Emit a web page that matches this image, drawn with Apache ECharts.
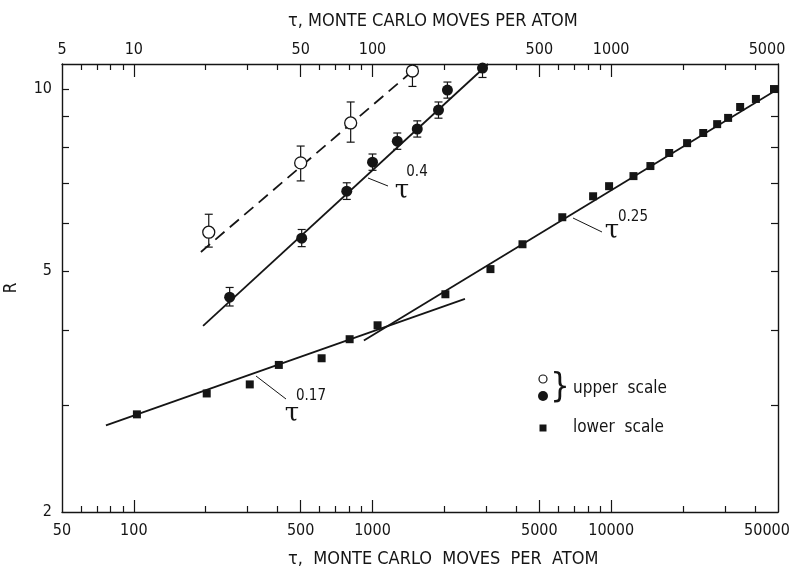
<!DOCTYPE html>
<html><head><meta charset="utf-8">
<script src="https://cdn.jsdelivr.net/npm/echarts@6/dist/echarts.min.js"></script>
<style>html,body{margin:0;padding:0;background:#fff}#c{width:796px;height:575px}</style>
</head><body><div id="c"></div>
<script>
// lower-scale data (squares), tau on bottom axis
const lowerTau = [103, 202, 306, 405, 612, 802, 1050, 2020, 3120, 4250, 6240, 8400, 9800, 12400, 14600, 17500, 20800, 24300, 27800, 30900, 34700, 40400, 48100];
const lowerR = [2.90, 3.14, 3.25, 3.50, 3.59, 3.86, 4.07, 4.58, 5.04, 5.54, 6.14, 6.65, 6.91, 7.18, 7.46, 7.84, 8.14, 8.46, 8.75, 8.96, 9.34, 9.63, 10.0];
// upper-scale data, filled circles
const filledTau = [25.2, 50.5, 78, 100, 127, 154, 189, 206, 289];
const filledR = [4.53, 5.67, 6.78, 7.57, 8.20, 8.59, 9.23, 9.96, 10.83];
const filledLo = [4.38, 5.49, 6.57, 7.34, 7.95, 8.33, 8.95, 9.66, 10.45];
const filledHi = [4.70, 5.86, 7.00, 7.81, 8.46, 8.86, 9.52, 10.27, 11.2];
// upper-scale data, open circles
const openTau = [20.6, 50, 81, 147];
const openR = [5.80, 7.55, 8.79, 10.71];
const openLo = [5.48, 7.05, 8.17, 10.1];
const openHi = [6.21, 8.05, 9.52, 11.4];
// fitted power-law lines (end points)
const fit04 = [[19.5, 4.06], [305, 11.0]];
const fitDashed = [[19.1, 5.38], [155, 10.9]];
const fit017 = [[76.4, 2.78], [2440, 4.50]];
const fit025 = [[920, 3.84], [50000, 10.0]];
// ticks
const bottomLabels = [50, 100, 500, 1000, 5000, 10000, 50000];
const bottomMinor = [60,70,80,90,200,300,400,600,700,800,900,2000,3000,4000,6000,7000,8000,9000,20000,30000,40000];
const bottomMajor = [100,500,1000,5000,10000];
const topLabels = [5,10,50,100,500,1000,5000];
const topMinor = [6,7,8,9,20,30,40,60,70,80,90,200,300,400,600,700,800,900,2000,3000,4000];
const topMajor = [10,50,100,500,1000];
const yLabels = [2,5,10];
const yTicks = [3,4,5,6,7,8,9,10];

const INK = '#151515';
const FONT = '"Liberation Sans Narrow", "DejaVu Sans Condensed", Roboto, sans-serif';
const zip = (a,b) => a.map((v,i)=>[v,b[i]]);
const zip3 = (a,b,c) => a.map((v,i)=>[v,b[i],c[i]]);

function errRender(params, api) {
  const x = api.value(0), lo = api.value(1), hi = api.value(2);
  const p1 = api.coord([x, lo]), p2 = api.coord([x, hi]);
  const w = 4;
  const st = {stroke: INK, lineWidth: 1.2};
  return {type:'group', children:[
    {type:'line', shape:{x1:p1[0],y1:p1[1],x2:p2[0],y2:p2[1]}, style:st},
    {type:'line', shape:{x1:p1[0]-w,y1:p1[1],x2:p1[0]+w,y2:p1[1]}, style:st},
    {type:'line', shape:{x1:p2[0]-w,y1:p2[1],x2:p2[0]+w,y2:p2[1]}, style:st}
  ]};
}

// the last label on each x axis is pulled left so it stays inside the page
function xFmt(maxV) {
  return v => (Math.abs(v - maxV) < 1e-6 ? '{e|' + v + '}' : String(v));
}
const edgeRich = {e:{color:INK, fontFamily:FONT, fontSize:16, padding:[0,22,0,0]}};

const axisCommon = {
  type:'log', logBase:10, splitLine:{show:false},
  axisLine:{show:true, lineStyle:{color:INK, width:1.4}},
  axisLabel:{color:INK, fontFamily:FONT, fontSize:16},
};

const option = {
  animation:false,
  backgroundColor:'#fff',
  grid:{left:62, right:18, top:64, bottom:63, containLabel:false, outerBoundsMode:'none'},
  xAxis:[
    Object.assign({}, axisCommon, {position:'bottom', min:50, max:50000,
      axisTick:{show:true, inside:true, length:6, customValues:bottomMinor, lineStyle:{color:INK,width:1.2}},
      axisLabel:Object.assign({}, axisCommon.axisLabel, {customValues:bottomLabels, margin:11, formatter:xFmt(50000), rich:edgeRich})}),
    Object.assign({}, axisCommon, {position:'top', min:5, max:5000,
      axisTick:{show:true, inside:true, length:6, customValues:topMinor, lineStyle:{color:INK,width:1.2}},
      axisLabel:Object.assign({}, axisCommon.axisLabel, {customValues:topLabels, margin:6, formatter:xFmt(5000), rich:edgeRich})}),
    Object.assign({}, axisCommon, {position:'bottom', min:50, max:50000, axisLine:{show:false},
      axisTick:{show:true, inside:true, length:12, customValues:bottomMajor, lineStyle:{color:INK,width:1.2}},
      axisLabel:{show:false}}),
    Object.assign({}, axisCommon, {position:'top', min:5, max:5000, axisLine:{show:false},
      axisTick:{show:true, inside:true, length:13, customValues:topMajor, lineStyle:{color:INK,width:1.2}},
      axisLabel:{show:false}})
  ],
  yAxis:[
    Object.assign({}, axisCommon, {position:'left', min:2, max:11,
      name:'R', nameLocation:'middle', nameGap:42, nameTextStyle:{color:INK, fontFamily:FONT, fontSize:17},
      axisTick:{show:true, inside:true, length:7, customValues:yTicks, lineStyle:{color:INK,width:1.2}},
      axisLabel:Object.assign({}, axisCommon.axisLabel, {customValues:yLabels, margin:10, formatter:v=>String(v)})}),
    Object.assign({}, axisCommon, {position:'right', min:2, max:11,
      axisTick:{show:true, inside:true, length:7, customValues:yTicks, lineStyle:{color:INK,width:1.2}},
      axisLabel:{show:false}})
  ],
  series:[
    {type:'line', xAxisIndex:1, yAxisIndex:0, data:fitDashed, symbol:'none', clip:true,
      lineStyle:{color:INK, width:1.8, type:[12,7]}},
    {type:'line', xAxisIndex:1, yAxisIndex:0, data:fit04, symbol:'none', clip:true,
      lineStyle:{color:INK, width:1.8}},
    {type:'line', xAxisIndex:0, yAxisIndex:0, data:fit017, symbol:'none', clip:true,
      lineStyle:{color:INK, width:1.8}},
    {type:'line', xAxisIndex:0, yAxisIndex:0, data:fit025, symbol:'none', clip:true,
      lineStyle:{color:INK, width:1.8}},
    {type:'custom', xAxisIndex:1, yAxisIndex:0, data:zip3(openTau, openLo, openHi), renderItem:errRender,
      encode:{x:0, y:[1,2]}, clip:true, z:3},
    {type:'custom', xAxisIndex:1, yAxisIndex:0, data:zip3(filledTau, filledLo, filledHi), renderItem:errRender,
      encode:{x:0, y:[1,2]}, clip:true, z:3},
    {type:'scatter', xAxisIndex:1, yAxisIndex:0, data:zip(openTau, openR), symbol:'circle', symbolSize:12, clip:true, z:4,
      itemStyle:{color:'#fff', borderColor:INK, borderWidth:1.3, opacity:1}},
    {type:'scatter', xAxisIndex:1, yAxisIndex:0, data:zip(filledTau, filledR), symbol:'circle', symbolSize:11, clip:true, z:4,
      itemStyle:{color:INK, opacity:1}},
    {type:'scatter', xAxisIndex:0, yAxisIndex:0, data:zip(lowerTau, lowerR), symbol:'rect', symbolSize:8, clip:true, z:4,
      itemStyle:{color:INK, opacity:1}}
  ],
  graphic:[
    {type:'text', left:288, top:12, style:{text:'τ, MONTE CARLO MOVES PER ATOM', fill:INK, font:'18px ' + FONT}},
    {type:'text', left:288, top:550, style:{text:'τ,  MONTE CARLO  MOVES  PER  ATOM', fill:INK, font:'18px ' + FONT}},
    // annotations
    {type:'line', shape:{x1:368,y1:178,x2:388,y2:186}, style:{stroke:INK, lineWidth:1}},
    {type:'text', x:402, y:191, style:{text:'τ', fill:INK, font:'26px "DejaVu Serif"', align:'center', verticalAlign:'middle'}},
    {type:'text', x:417, y:172, style:{text:'0.4', fill:INK, font:'15px ' + FONT, align:'center', verticalAlign:'middle'}},
    {type:'line', shape:{x1:573,y1:218,x2:602,y2:232}, style:{stroke:INK, lineWidth:1}},
    {type:'text', x:612, y:231, style:{text:'τ', fill:INK, font:'26px "DejaVu Serif"', align:'center', verticalAlign:'middle'}},
    {type:'text', x:633, y:217, style:{text:'0.25', fill:INK, font:'15px ' + FONT, align:'center', verticalAlign:'middle'}},
    {type:'line', shape:{x1:256,y1:376,x2:286,y2:399}, style:{stroke:INK, lineWidth:1}},
    {type:'text', x:292, y:414, style:{text:'τ', fill:INK, font:'26px "DejaVu Serif"', align:'center', verticalAlign:'middle'}},
    {type:'text', x:311, y:396, style:{text:'0.17', fill:INK, font:'15px ' + FONT, align:'center', verticalAlign:'middle'}},
    // legend
    {type:'circle', shape:{cx:543, cy:379, r:4}, style:{fill:'#fff', stroke:INK, lineWidth:1.2}},
    {type:'circle', shape:{cx:543, cy:396, r:5}, style:{fill:INK}},
    {type:'text', x:560, y:388, style:{text:'}', fill:INK, font:'34px ' + FONT, align:'center', verticalAlign:'middle'}},
    {type:'text', x:573, y:389, style:{text:'upper  scale', fill:INK, font:'17px ' + FONT, verticalAlign:'middle'}},
    {type:'rect', shape:{x:539.5, y:424.5, width:7, height:7}, style:{fill:INK}},
    {type:'text', x:573, y:428, style:{text:'lower  scale', fill:INK, font:'17px ' + FONT, verticalAlign:'middle'}}
  ]
};
const chart = echarts.init(document.getElementById('c'), null, {renderer:'canvas'});
chart.setOption(option);
</script></body></html>
